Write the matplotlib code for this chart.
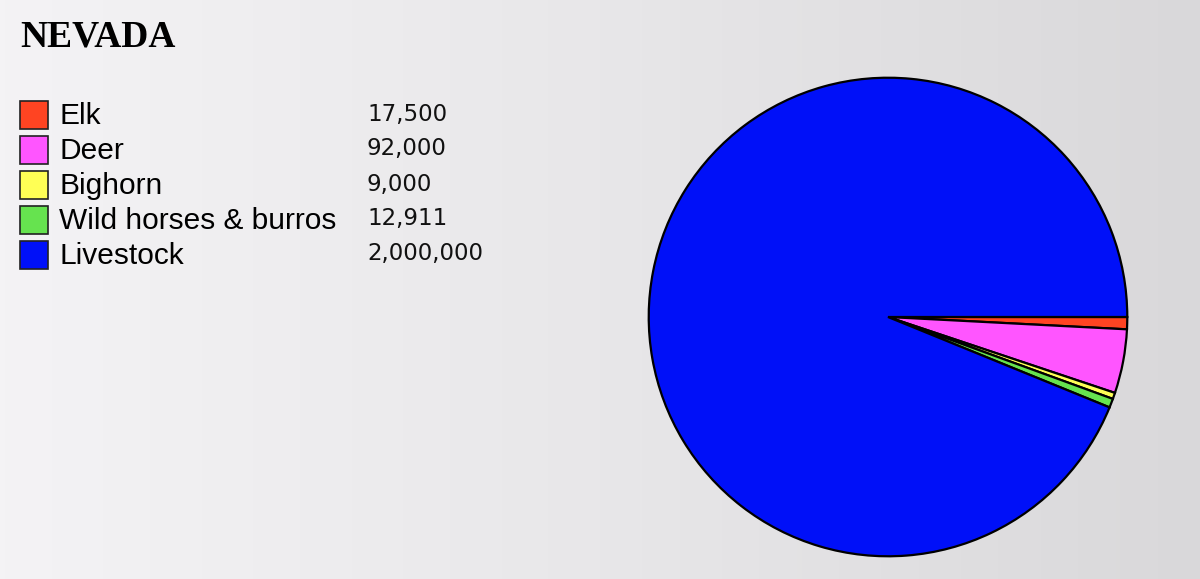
import numpy as np
import matplotlib.pyplot as plt
from matplotlib.patches import Rectangle
from matplotlib.colors import LinearSegmentedColormap

# data
categories = ['Elk', 'Deer', 'Bighorn', 'Wild horses & burros', 'Livestock']
value_labels = ['17,500', '92,000', '9,000', '12,911', '2,000,000']
values = [17500, 92000, 9000, 12911, 2000000]
colors = ['#ff4422', '#ff55ff', '#ffff55', '#66e34f', '#0010f8']

W, H = 1200, 579
fig = plt.figure(figsize=(W / 100, H / 100), dpi=100)

# background gradient (light left, grey right)
bg = fig.add_axes([0, 0, 1, 1])
grad = LinearSegmentedColormap.from_list('bg', ['#f4f3f5', '#e8e7e9', '#d9d8da'])
bg.imshow(np.linspace(0, 1, 256).reshape(1, -1), cmap=grad, aspect='auto',
          extent=[0, 1, 0, 1])
bg.set_xlim(0, 1)
bg.set_ylim(0, 1)
bg.axis('off')

# title
fig.text(20 / W, 1 - 37 / H, 'NEVADA', family='Liberation Serif', weight='bold',
         fontsize=27, va='center', ha='left', color='black')

# legend
row0, step = 115, 35
for i, (cat, lab, c) in enumerate(zip(categories, value_labels, colors)):
    yc = row0 + i * step
    bg.add_patch(Rectangle((20 / W, 1 - (yc + 14) / H), 28 / W, 28 / H,
                           facecolor=c, edgecolor='#222222', lw=1.2,
                           transform=fig.transFigure))
    fig.text(59 / W, 1 - (yc + 1) / H, cat, family='Liberation Sans', fontsize=21.5,
             va='center', ha='left', color='black')
    fig.text(367 / W, 1 - (yc - 1) / H, lab, family='DejaVu Sans', fontsize=16.5,
             va='center', ha='left', color='#111111')

# pie
cx, cy, r = 888, 317, 240
ax = fig.add_axes([(cx - r) / W, (H - cy - r) / H, 2 * r / W, 2 * r / H])
ax.pie(values, colors=colors, startangle=0, counterclock=False,
       wedgeprops=dict(edgecolor='black', linewidth=1.6))
ax.set_xlim(-1.003, 1.003)
ax.set_ylim(-1.003, 1.003)
ax.axis('off')

fig.savefig('out.png', dpi=100)
